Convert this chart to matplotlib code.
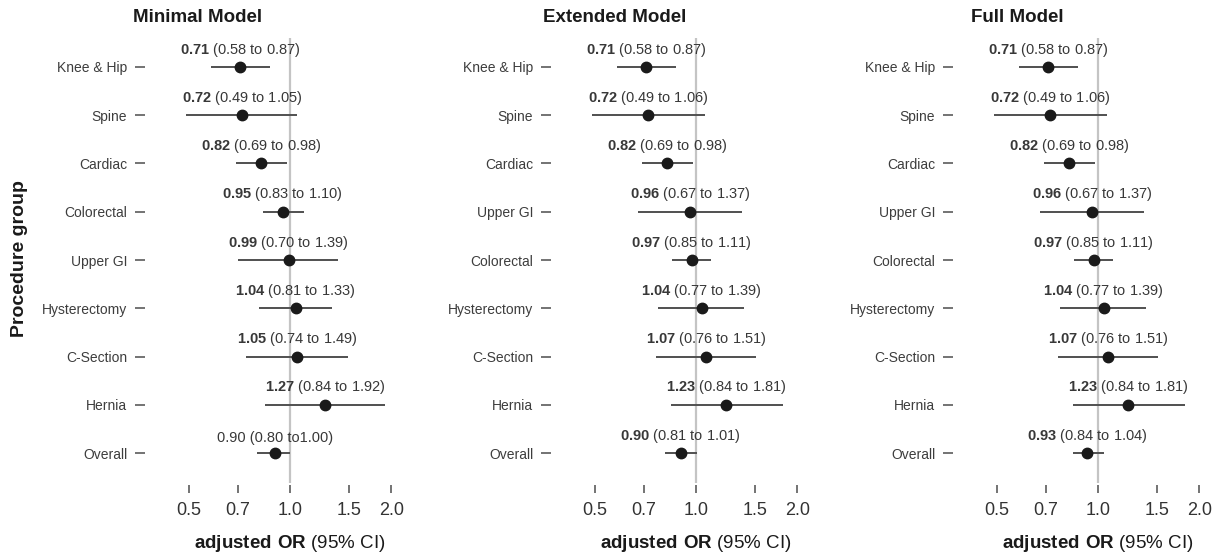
import numpy as np
import matplotlib
matplotlib.use("Agg")
import matplotlib.pyplot as plt
from matplotlib.transforms import blended_transform_factory

plt.rcParams['font.family'] = ['Liberation Sans', 'DejaVu Sans']
plt.rcParams['mathtext.fontset'] = 'custom'
plt.rcParams['mathtext.rm'] = 'Liberation Sans'
plt.rcParams['mathtext.bf'] = 'Liberation Sans:bold'

titles = ["Minimal Model", "Extended Model", "Full Model"]

# procedure groups, top to bottom, for each model
groups_min = ["Knee & Hip", "Spine", "Cardiac", "Colorectal", "Upper GI",
              "Hysterectomy", "C-Section", "Hernia", "Overall"]
groups_ext = ["Knee & Hip", "Spine", "Cardiac", "Upper GI", "Colorectal",
              "Hysterectomy", "C-Section", "Hernia", "Overall"]
groups_full = groups_ext

# adjusted odds ratios and 95% CI
or_min = [0.71, 0.72, 0.82, 0.95, 0.99, 1.04, 1.05, 1.27, 0.90]
lo_min = [0.58, 0.49, 0.69, 0.83, 0.70, 0.81, 0.74, 0.84, 0.80]
hi_min = [0.87, 1.05, 0.98, 1.10, 1.39, 1.33, 1.49, 1.92, 1.00]

or_ext = [0.71, 0.72, 0.82, 0.96, 0.97, 1.04, 1.07, 1.23, 0.90]
lo_ext = [0.58, 0.49, 0.69, 0.67, 0.85, 0.77, 0.76, 0.84, 0.81]
hi_ext = [0.87, 1.06, 0.98, 1.37, 1.11, 1.39, 1.51, 1.81, 1.01]

or_full = [0.71, 0.72, 0.82, 0.96, 0.97, 1.04, 1.07, 1.23, 0.93]
lo_full = [0.58, 0.49, 0.69, 0.67, 0.85, 0.77, 0.76, 0.84, 0.84]
hi_full = [0.87, 1.06, 0.98, 1.37, 1.11, 1.39, 1.51, 1.81, 1.04]

xticks = [0.5, 0.7, 1.0, 1.5, 2.0]
xticklabels = ["0.5", "0.7", "1.0", "1.5", "2.0"]

panels = [
    (groups_min, or_min, lo_min, hi_min),
    (groups_ext, or_ext, lo_ext, hi_ext),
    (groups_full, or_full, lo_full, hi_full),
]

W, H = 1220, 554
fig = plt.figure(figsize=(W / 100, H / 100), dpi=100)

ax_left_px = [148, 554, 956]
ax_w_px = 256
ax_top_px, ax_bot_px = 38, 483
title_x_px = [198, 615, 1017]

for k, (groups, est, lo, hi) in enumerate(panels):
    ax = fig.add_axes([ax_left_px[k] / W, 1 - ax_bot_px / H,
                       ax_w_px / W, (ax_bot_px - ax_top_px) / H])
    y = np.arange(len(groups))

    ax.axvline(1.0, color='#c4c4c4', lw=1.6, zorder=1)
    ax.hlines(y, lo, hi, color='#505050', lw=1.4, zorder=2)
    ax.plot(est, y, 'o', color='#1a1a1a', ms=7.5, zorder=3)

    for i in range(len(groups)):
        rest = f" ({lo[i]:.2f} to {hi[i]:.2f})"
        if k == 0 and groups[i] == "Overall":
            label = f"{est[i]:.2f} ({lo[i]:.2f} to{hi[i]:.2f})"
        else:
            label = r"$\mathbf{" + f"{est[i]:.2f}" + "}$" + rest
        ax.annotate(label, (est[i], y[i]), xytext=(0, 6),
                    textcoords='offset points', ha='center', va='bottom',
                    fontsize=10.5, color='#383838')

    ax.set_xscale('log')
    ax.set_xlim(0.378, 0.378 * np.exp(ax_w_px / 146))
    ax.set_ylim(8.62, -0.6)
    ax.set_xticks(xticks)
    ax.set_xticklabels(xticklabels)
    ax.xaxis.set_minor_locator(matplotlib.ticker.NullLocator())
    ax.set_yticks(y)
    ax.set_yticklabels(groups)

    for s in ax.spines.values():
        s.set_visible(False)
    ax.spines['left'].set_position(('outward', 2.5))
    ax.spines['bottom'].set_position(('outward', 1.5))
    ax.tick_params(axis='y', length=7.5, width=1.1, color='#4d4d4d',
                   pad=5, labelsize=10, labelcolor='#3d3d3d')
    ax.tick_params(axis='x', length=6, width=1.1, color='#4d4d4d',
                   pad=6, labelsize=13, labelcolor='#333333')

    trans = blended_transform_factory(ax.transData, fig.transFigure)
    ax.text(1.0, 1 - 543 / H, r"$\mathbf{adjusted\ OR}$ (95% CI)",
            transform=trans, ha='center', va='center', fontsize=13.5,
            color='#1a1a1a')

    fig.text(title_x_px[k] / W, 1 - 18 / H, titles[k], ha='center',
             va='center', fontsize=13.5, fontweight='bold', color='#1a1a1a')

fig.text(20 / W, 1 - 259 / H, "Procedure group", rotation=90, ha='center',
         va='center', fontsize=14, fontweight='bold', color='#1a1a1a')

fig.savefig("out.png", dpi=100)
